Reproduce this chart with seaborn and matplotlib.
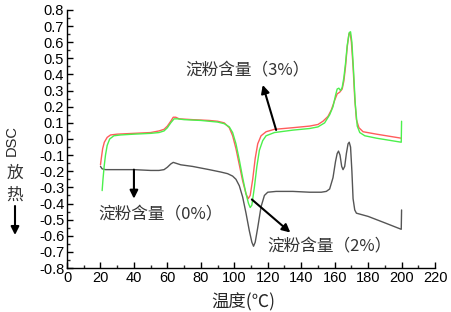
import numpy as np
import pandas as pd
import seaborn as sns
from matplotlib import pyplot as plt
from matplotlib.ticker import MultipleLocator

sns.set_style('ticks')
plt.rcParams['font.family'] = ['Liberation Sans', 'Noto Sans CJK SC', 'DejaVu Sans']
plt.rcParams['axes.unicode_minus'] = False
plt.rcParams['xtick.direction'] = 'in'
plt.rcParams['ytick.direction'] = 'in'

# 淀粉含量 0%
t0 = [20, 21, 23, 30, 40, 50, 55, 58, 60, 62, 63.5, 65, 68, 75, 85, 92, 96, 99, 101, 103,
      105, 107, 109, 110.5, 111.5, 112.5, 114, 116, 118, 120, 125, 135, 145, 152, 155, 157,
      159, 160.5, 161.5, 162.3, 163.2, 164.2, 165, 166, 167, 168, 168.7, 169.5, 170.3, 171,
      172, 173, 180, 190, 199.8, 200]
dsc0 = [-0.17, -0.185, -0.19, -0.19, -0.19, -0.195, -0.195, -0.19, -0.175, -0.155, -0.145,
        -0.15, -0.16, -0.17, -0.19, -0.205, -0.215, -0.23, -0.25, -0.29, -0.36, -0.46, -0.57,
        -0.64, -0.665, -0.64, -0.55, -0.42, -0.35, -0.33, -0.325, -0.325, -0.33, -0.33, -0.325,
        -0.31, -0.24, -0.14, -0.09, -0.075, -0.1, -0.17, -0.19, -0.17, -0.09, -0.03, -0.02,
        -0.05, -0.2, -0.37, -0.44, -0.46, -0.48, -0.52, -0.56, -0.44]

# 淀粉含量 3%
t3 = [20, 20.5, 21.3, 22.3, 24, 26, 30, 40, 50, 55, 58, 60, 62, 63.5, 65, 67, 75, 85, 90, 94,
      97, 99, 101, 103, 105, 107, 108.3, 109.5, 111, 112.5, 114, 116, 119, 124, 135, 145, 150,
      153, 156, 158, 160, 161.5, 163, 164.5, 165.5, 166.5, 167.5, 168.5, 169.2, 170, 171, 172,
      173, 174.5, 177, 185, 199.8]
dsc3 = [-0.16, -0.12, -0.06, -0.02, 0.01, 0.025, 0.03, 0.035, 0.04, 0.05, 0.06, 0.08, 0.11,
        0.135, 0.135, 0.125, 0.12, 0.115, 0.11, 0.1, 0.07, 0.02, -0.06, -0.16, -0.26, -0.34,
        -0.37, -0.35, -0.25, -0.12, -0.03, 0.02, 0.045, 0.06, 0.07, 0.08, 0.09, 0.11, 0.14,
        0.18, 0.24, 0.28, 0.29, 0.31, 0.36, 0.45, 0.57, 0.65, 0.66, 0.6, 0.45, 0.25, 0.12,
        0.07, 0.045, 0.03, 0.005]

# 淀粉含量 2%
t2 = [21, 21.5, 22.2, 23, 24, 25.5, 28, 32, 40, 50, 55, 58, 60, 62, 64, 66, 70, 80, 90, 94,
      97, 99, 101, 103, 105, 107, 108.5, 109.5, 110.5, 112, 113.5, 115, 117, 119, 124, 135,
      145, 150, 154, 157, 159, 160.5, 161.5, 162.5, 163.5, 164.5, 165.5, 166.5, 167.5, 168.7,
      169.5, 170.3, 171.3, 172.3, 173.5, 175, 178, 185, 199.8, 200]
dsc2 = [-0.32, -0.25, -0.17, -0.1, -0.04, 0.0, 0.02, 0.025, 0.03, 0.035, 0.04, 0.05, 0.07,
        0.1, 0.125, 0.125, 0.12, 0.115, 0.105, 0.095, 0.075, 0.04, -0.03, -0.13, -0.24, -0.34,
        -0.4, -0.425, -0.41, -0.3, -0.17, -0.07, -0.01, 0.02, 0.04, 0.055, 0.065, 0.075, 0.1,
        0.15, 0.2, 0.27, 0.31, 0.315, 0.3, 0.32, 0.38, 0.47, 0.58, 0.66, 0.665, 0.6, 0.42,
        0.22, 0.08, 0.04, 0.02, 0.005, -0.02, 0.11]

fig = plt.figure(figsize=(4.51, 3.12), dpi=100)
ax = fig.add_axes([0.1486, 0.141, 0.816, 0.827])

sns.lineplot(x=t0, y=dsc0, estimator=None, sort=False, color='#555555', lw=1, ax=ax)
sns.lineplot(x=t3, y=dsc3, estimator=None, sort=False, color='#ff5c5c', lw=1, ax=ax)
sns.lineplot(x=t2, y=dsc2, estimator=None, sort=False, color='#4cf04c', lw=1, ax=ax)

ax.set_xlim(0, 220)
ax.set_ylim(-0.8, 0.8)
ax.xaxis.set_major_locator(MultipleLocator(20))
ax.xaxis.set_minor_locator(MultipleLocator(10))
ax.yaxis.set_major_locator(MultipleLocator(0.1))
ax.yaxis.set_minor_locator(MultipleLocator(0.05))
ax.set_yticklabels(['%.1f' % v for v in ax.get_yticks()])
ax.tick_params(which='major', length=4, width=1, labelsize=10.5, colors='black', pad=2)
ax.tick_params(which='minor', length=2, width=1)
sns.despine(ax=ax)
for s in ['left', 'bottom']:
    ax.spines[s].set_color('black')
    ax.spines[s].set_linewidth(1)

cjk = ['Noto Sans CJK SC', 'DejaVu Sans']
arr = dict(arrowstyle='-|>', color='black', lw=1.5, mutation_scale=12, shrinkA=0, shrinkB=0)
ax.annotate('', xy=(117, 0.335), xytext=(125, 0.056), arrowprops=arr)
ax.text(108, 0.42, '淀粉含量（3%）', family=cjk, fontsize=12, color='#333333', ha='center', va='center')
ax.annotate('', xy=(40, -0.37), xytext=(40, -0.19), arrowprops=arr)
ax.text(56, -0.47, '淀粉含量（0%）', family=cjk, fontsize=12, color='#333333', ha='center', va='center')
ax.annotate('', xy=(133.5, -0.58), xytext=(110.5, -0.375), arrowprops=arr)
ax.text(157, -0.67, '淀粉含量（2%）', family=cjk, fontsize=12, color='#333333', ha='center', va='center')

fig.text(243 / 451, 1 - 302 / 312, '温度(℃)', family=cjk, fontsize=12.5, ha='center', va='center')
fig.text(12 / 451, 1 - 141 / 312, 'DSC', fontsize=10.5, rotation=90, ha='center', va='center')
fig.text(15 / 451, 1 - 173 / 312, '放', family=cjk, fontsize=12, color='#333333', ha='center', va='center')
fig.text(15 / 451, 1 - 195 / 312, '热', family=cjk, fontsize=12, color='#333333', ha='center', va='center')
ax.annotate('', xy=(15 / 451, 1 - 235 / 312), xytext=(15 / 451, 1 - 206 / 312),
            xycoords='figure fraction', textcoords='figure fraction', arrowprops=arr)

plt.savefig('out.png', dpi=100)
